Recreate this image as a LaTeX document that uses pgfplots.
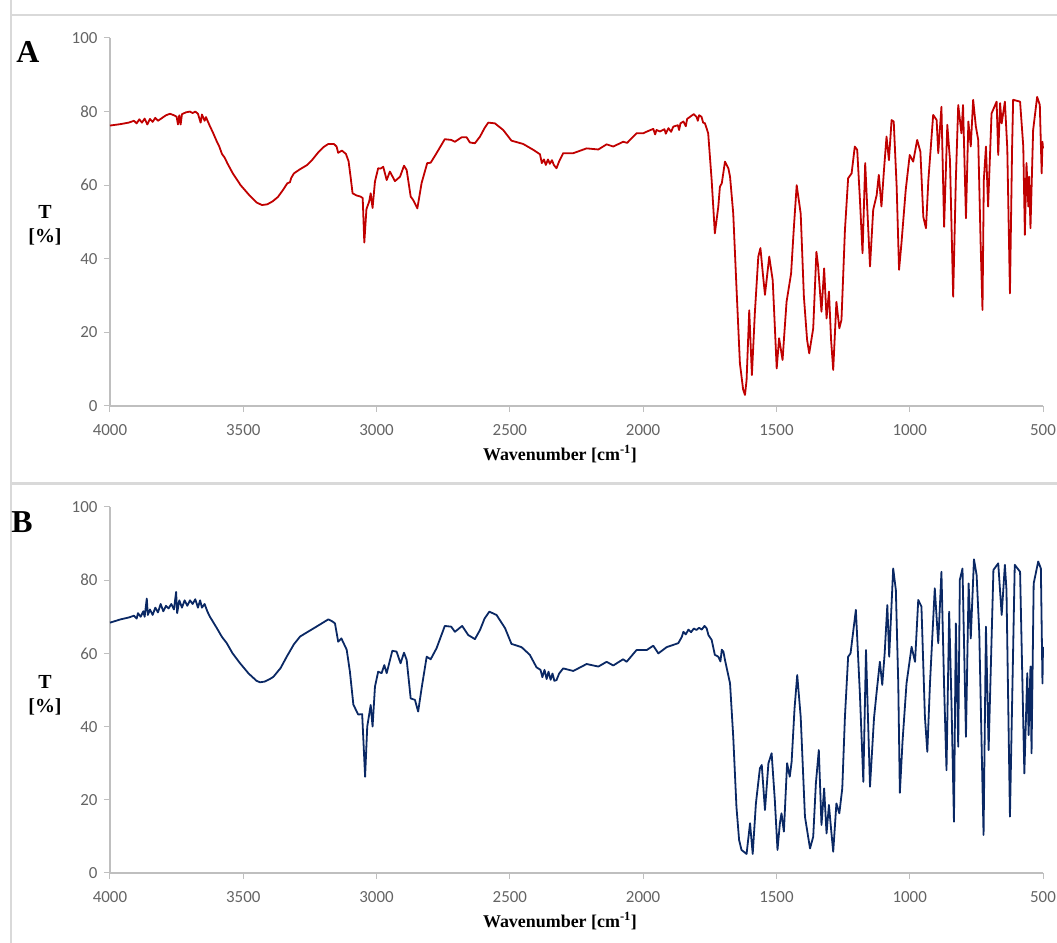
\documentclass[border=0pt]{standalone}
\usepackage{fontspec}
\setmainfont{Liberation Serif}
\newfontfamily\calibri{Carlito}
\usepackage{pgfplots}
\pgfplotsset{compat=1.18}
\definecolor{specred}{RGB}{192,0,0}
\definecolor{specblue}{RGB}{10,40,100}
\definecolor{axgray}{RGB}{191,191,191}
\definecolor{tickgray}{RGB}{100,100,100}
\definecolor{framegray}{RGB}{217,217,217}
\pgfplotsset{
  irstyle/.style={
    scale only axis, width=933bp,
    xmin=500, xmax=4000, x dir=reverse,
    ymin=0, ymax=100,
    xtick={500,1000,...,4000}, ytick={0,20,...,100},
    axis lines=left, axis line style={-, draw=axgray, line width=1.2bp},
    tick style={draw=axgray, line width=1bp},
    tick align=outside, major tick length=6bp,
    /pgf/number format/assume math mode=true,
    /pgf/number format/1000 sep={},
    ticklabel style={font=\calibri\fontsize{17}{17}\selectfont, text=tickgray},
    xticklabel style={yshift=-9bp},
    yticklabel style={xshift=-3bp},
    clip=false,
  }
}
\begin{document}
\begin{tikzpicture}[x=1bp,y=1bp]
\useasboundingbox (0,0) rectangle (1057,943);
% frames
\draw[framegray, line width=2bp] (11,1080) -- (11,928) -- (1070,928);
\draw[framegray, line width=2.5bp] (11,928) -- (11,-20);
\draw[framegray, line width=3bp] (11,459) -- (1070,459);
% Panel A
\begin{axis}[irstyle, height=368bp, at={(110bp,537bp)}, anchor=south west]
\addplot[specred, line width=1.8bp, line join=round, no marks] table {
4000 76.2
3960 76.6
3930 77.0
3910 77.5
3900 76.8
3890 77.9
3880 77.0
3870 78.1
3860 76.5
3850 78.0
3840 77.2
3830 78.3
3820 77.5
3800 78.5
3790 79.0
3775 79.4
3760 79.0
3750 78.6
3745 76.5
3740 79.0
3735 76.5
3730 79.3
3715 79.8
3700 80.0
3690 79.6
3680 80.0
3670 79.4
3660 77.0
3655 79.2
3645 77.5
3640 78.5
3625 76.0
3615 74.5
3600 72.0
3590 70.5
3580 68.5
3570 67.5
3560 66.0
3540 63.3
3510 60.0
3480 57.5
3450 55.3
3430 54.6
3410 54.8
3390 55.6
3370 56.8
3350 58.8
3335 60.5
3325 60.8
3320 62.0
3310 63.2
3290 64.2
3260 65.5
3240 67.0
3220 68.8
3200 70.3
3181 71.2
3160 71.2
3150 70.5
3144 68.8
3130 69.4
3115 68.5
3105 66.5
3097 62.0
3090 57.8
3075 57.2
3060 56.9
3052 56.5
3046 44.4
3038 53.5
3028 55.5
3022 57.8
3015 53.8
3006 61.0
2994 64.6
2985 64.5
2975 65.0
2962 61.4
2950 63.7
2931 61.1
2912 62.3
2897 65.3
2887 64.1
2872 56.9
2863 56.0
2847 53.7
2831 60.6
2810 66.0
2797 66.1
2775 68.7
2744 72.5
2720 72.3
2706 71.8
2681 73.0
2662 73.0
2650 71.6
2631 71.4
2612 73.2
2595 75.5
2581 77.0
2556 76.8
2525 75.0
2494 72.1
2450 71.2
2412 69.6
2387 68.4
2380 66.0
2372 67.0
2365 65.5
2357 67.0
2350 65.8
2342 66.8
2335 65.5
2325 64.6
2315 66.5
2300 68.7
2262 68.7
2212 70.0
2168 69.7
2137 71.1
2112 70.5
2075 71.8
2060 71.5
2025 74.1
2000 74.1
1985 74.6
1962 75.3
1955 73.8
1950 75.0
1937 74.6
1920 75.2
1915 74.0
1905 75.5
1895 74.5
1887 75.9
1870 76.3
1865 75.0
1860 76.8
1849 77.3
1840 76.0
1835 78.0
1818 78.9
1810 79.3
1800 78.6
1795 77.5
1790 79.0
1781 78.6
1775 77.0
1768 76.8
1756 74.1
1743 61.4
1731 46.9
1718 54.2
1712 59.6
1705 60.5
1693 66.4
1680 64.5
1674 62.3
1662 52.3
1650 32.4
1637 11.6
1625 4.5
1618 3.0
1612 7.0
1602 26.0
1592 8.4
1581 25.2
1568 40.6
1560 42.9
1551 36.0
1543 30.2
1527 40.6
1514 34.2
1505 20.0
1499 10.2
1490 18.4
1477 12.5
1470 20.0
1462 28.3
1445 36.0
1435 48.0
1424 60.0
1409 52.3
1397 29.7
1385 18.0
1377 14.3
1362 21.1
1350 41.9
1344 38.3
1331 25.6
1321 37.4
1312 23.8
1303 31.1
1295 18.0
1287 9.8
1275 28.3
1264 21.1
1256 23.4
1243 47.8
1231 61.9
1218 63.2
1206 70.5
1197 69.6
1187 56.4
1177 41.5
1167 66.0
1160 55.0
1149 37.9
1137 53.3
1124 57.3
1116 62.8
1106 54.2
1097 63.7
1087 73.2
1078 66.8
1068 77.7
1060 77.3
1049 59.6
1040 37.0
1031 44.2
1015 58.7
1000 68.2
987 66.4
972 72.3
960 69.1
949 51.4
939 48.3
930 61.4
912 79.1
899 77.7
893 68.7
881 81.3
871 48.7
859 76.4
849 66.8
837 29.7
827 61.4
818 81.8
806 74.1
800 81.8
789 51.0
780 77.3
771 70.5
762 83.2
752 76.0
743 72.3
734 44.2
727 26.1
722 61.4
714 70.5
706 54.2
693 79.5
674 82.7
668 68.2
661 82.3
655 76.8
643 82.7
634 70.0
624 30.6
616 70.0
612 83.2
586 82.7
574 70.5
568 46.5
562 66.0
555 54.2
552 62.3
547 48.3
537 75.0
522 84.0
512 81.8
505 63.2
502 71.8
500 70.0
};
\end{axis}
% Panel B
\begin{axis}[irstyle, height=366bp, at={(110bp,70bp)}, anchor=south west]
\addplot[specblue, line width=1.8bp, line join=round, no marks] table {
4000 68.4
3960 69.3
3930 69.8
3910 70.3
3900 69.5
3895 71.0
3885 70.0
3875 71.5
3870 70.0
3862 75.0
3858 70.5
3850 72.0
3840 70.5
3830 72.5
3820 71.2
3810 73.5
3800 71.5
3790 73.0
3780 72.3
3770 73.5
3760 72.0
3752 76.8
3748 71.0
3740 74.5
3730 72.5
3720 74.5
3710 73.0
3700 74.5
3690 73.5
3680 74.8
3670 72.5
3662 74.5
3655 72.5
3645 73.5
3635 71.5
3625 70.0
3600 67.0
3580 64.5
3562 62.8
3540 60.0
3512 57.3
3480 54.5
3450 52.5
3437 52.1
3420 52.3
3400 53.0
3387 53.6
3360 56.0
3337 59.1
3310 62.5
3287 64.6
3260 65.8
3237 66.8
3210 68.0
3181 69.3
3165 68.7
3156 68.2
3144 63.2
3132 64.1
3112 61.0
3100 55.0
3087 46.0
3069 43.3
3054 43.4
3043 26.3
3035 40.0
3022 45.9
3015 40.0
3006 50.9
2994 55.0
2981 54.6
2971 56.8
2962 54.6
2941 60.7
2925 60.5
2910 57.3
2897 60.2
2887 58.2
2872 47.7
2856 47.3
2844 44.1
2831 50.5
2812 59.1
2797 58.4
2775 61.4
2744 67.5
2720 67.3
2706 65.9
2679 67.5
2656 65.0
2631 63.9
2612 66.4
2595 69.5
2577 71.4
2550 70.5
2518 66.9
2494 62.6
2456 61.7
2425 59.6
2400 56.2
2385 55.5
2378 53.5
2370 55.5
2362 53.0
2355 55.0
2347 52.8
2340 54.5
2333 52.5
2325 52.7
2315 54.5
2300 55.9
2262 55.2
2212 57.1
2168 56.4
2137 57.7
2112 56.7
2075 58.4
2062 57.7
2025 60.9
1987 60.9
1962 62.1
1943 60.0
1912 61.7
1868 62.8
1855 64.5
1849 65.9
1840 65.2
1830 66.5
1820 65.8
1810 66.8
1800 66.4
1790 67.0
1780 66.5
1770 67.5
1762 66.9
1755 65.0
1743 63.7
1731 59.6
1718 59.1
1710 57.8
1705 61.0
1699 60.5
1693 58.2
1674 51.8
1662 37.2
1650 18.1
1640 9.0
1631 6.3
1612 5.2
1599 13.6
1589 5.2
1577 19.0
1562 28.6
1555 29.5
1543 17.2
1530 30.0
1518 32.7
1506 19.9
1496 6.3
1487 13.6
1481 16.3
1472 11.3
1460 30.0
1450 26.3
1443 30.4
1432 45.0
1422 54.1
1409 42.7
1393 15.4
1374 6.7
1362 9.9
1352 24.5
1341 33.6
1331 13.1
1321 23.1
1312 10.8
1303 18.6
1295 12.0
1287 5.8
1275 19.0
1264 16.3
1253 23.1
1243 42.7
1231 59.1
1222 60.0
1202 71.9
1187 49.1
1174 24.9
1164 60.9
1149 23.6
1134 42.3
1124 49.5
1112 57.7
1103 51.4
1094 60.0
1084 73.2
1077 59.1
1062 83.2
1052 77.3
1043 51.8
1037 21.9
1027 35.9
1012 51.8
993 61.8
980 57.7
968 74.6
956 72.8
943 42.7
934 33.1
924 51.8
906 77.8
893 62.8
881 82.3
871 50.9
862 28.1
852 71.4
843 45.4
834 14.0
827 68.2
818 34.5
812 80.1
802 83.2
789 37.2
779 79.1
771 64.1
759 85.7
749 81.4
739 65.5
729 30.4
723 10.4
714 67.3
704 33.6
686 82.8
668 84.6
655 70.5
643 84.2
637 77.3
624 15.4
606 84.2
586 82.3
570 27.2
559 54.6
554 37.7
547 56.4
543 32.7
535 79.1
518 85.1
508 83.2
502 51.8
500 61.8
};
\end{axis}
% labels
\node[font=\bfseries\fontsize{32}{32}\selectfont] at (28,891) {A};
\node[font=\bfseries\fontsize{32}{32}\selectfont] at (22,421) {B};
\node[font=\bfseries\fontsize{20}{24}\selectfont, align=center] at (45,718) {T\\[0pt][\%]};
\node[font=\bfseries\fontsize{20}{24}\selectfont, align=center] at (45,248) {T\\[0pt][\%]};
\node[font=\bfseries\fontsize{18}{18}\selectfont] at (560,489) {Wavenumber [cm\textsuperscript{-1}]};
\node[font=\bfseries\fontsize{18}{18}\selectfont] at (560,22) {Wavenumber [cm\textsuperscript{-1}]};
\end{tikzpicture}
\end{document}
